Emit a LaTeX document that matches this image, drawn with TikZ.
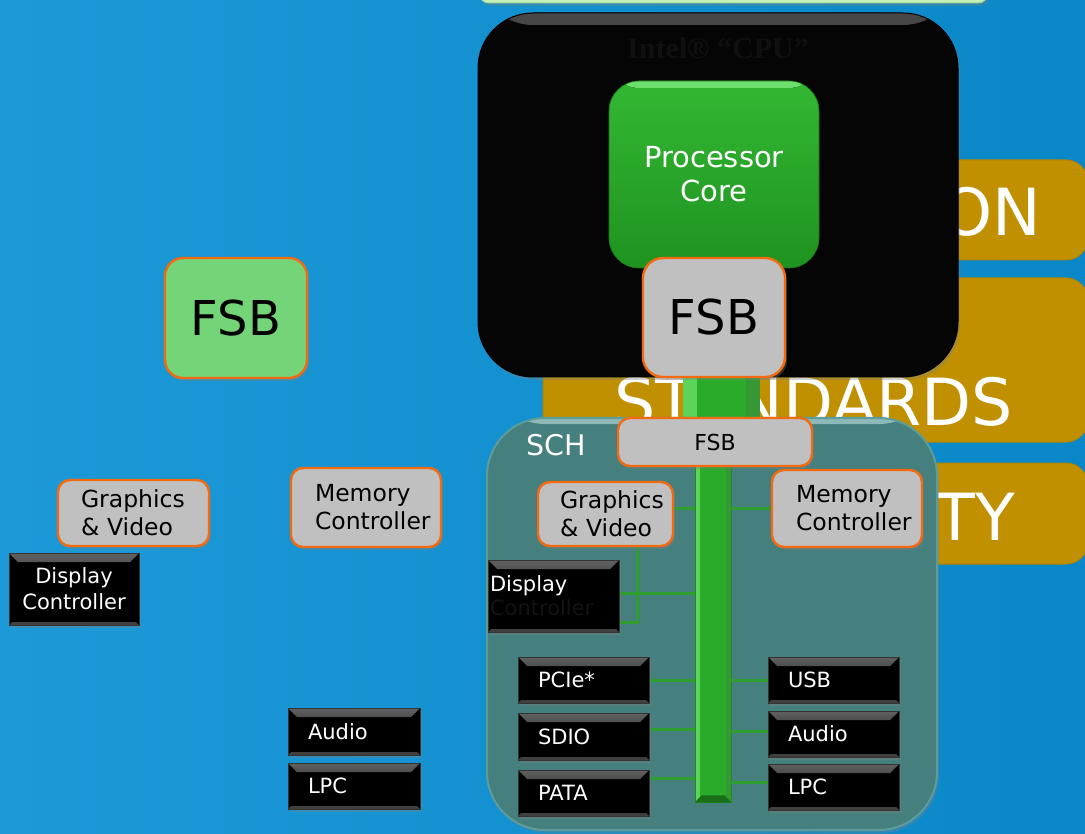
\documentclass[tikz,border=0pt]{standalone}
\usepackage{fontspec}
\setmainfont{DejaVu Sans}
\newfontfamily\cpufont{Liberation Serif}
\usetikzlibrary{shadows}
\pgfdeclarelayer{back}
\pgfdeclarelayer{wires}
\pgfsetlayers{back,wires,main}

\newcommand{\setfs}[2]{\fontsize{#1pt}{#2pt}\selectfont}

\definecolor{bgL}{HTML}{1C9AD8}
\definecolor{bgR}{HTML}{0A87C7}
\definecolor{gold}{HTML}{C09000}
\definecolor{boxgray}{HTML}{C0C0C0}
\definecolor{edgeorange}{HTML}{F46A10}
\definecolor{fsbgreen}{HTML}{74D478}
\definecolor{teal}{HTML}{457F7E}
\definecolor{tealedge}{HTML}{5E9C9B}
\definecolor{wire}{HTML}{2E9E2E}
\definecolor{coreTop}{HTML}{33B833}
\definecolor{coreBot}{HTML}{1F931F}
\definecolor{coreHi}{HTML}{6EE06E}
\definecolor{paleg}{HTML}{C6F0B8}
\definecolor{paleEdge}{HTML}{9FD89A}
\definecolor{cpublack}{HTML}{050505}
\definecolor{cpulabel}{HTML}{101010}
\definecolor{nearblack}{HTML}{131313}
\definecolor{buslight}{HTML}{5CD45C}
\definecolor{busmid}{HTML}{2AAC2A}
\definecolor{busdark}{HTML}{1E8B1E}

\begin{document}
\begin{tikzpicture}[x=1pt,y=-1pt,
  shadowed/.style={drop shadow={shadow xshift=2pt,shadow yshift=-3pt,opacity=0.35}},
  graybox/.style={shadowed,fill=boxgray,draw=edgeorange,line width=2.4pt,
    rounded corners=12pt,inner sep=0pt,text=black},
  blackbox/.style={shadowed,fill=black,draw=black!80,line width=0.5pt,inner sep=0pt,text=white,
    path picture={
      \fill[top color=black!62,bottom color=black]
        (path picture bounding box.north west) -- (path picture bounding box.north east)
        -- ([xshift=-9pt,yshift=-9pt]path picture bounding box.north east)
        -- ([xshift=9pt,yshift=-9pt]path picture bounding box.north west) -- cycle;
      \fill[black!75]
        (path picture bounding box.south west) -- (path picture bounding box.south east)
        -- ([xshift=-3pt,yshift=3pt]path picture bounding box.south east)
        -- ([xshift=3pt,yshift=3pt]path picture bounding box.south west) -- cycle;
    }},
  padtext/.style 2 args={text width=#1,inner xsep=#2,align=left},
  link/.style={draw=wire,line width=3pt},
  banner/.style={fill=gold,draw=gold!92!black,line width=1pt,rounded corners=22pt},
  bannertext/.style={text=white,inner sep=0pt,font=\setfs{65}{65}},
  busfill/.style={fill=busmid,
    path picture={
      \fill[buslight] (path picture bounding box.south west) rectangle
        ([xshift=#1]path picture bounding box.north west);
      \fill[busdark!90] (path picture bounding box.south east) rectangle
        ([xshift=-#1]path picture bounding box.north east);
    }},
  smallbox/.style={blackbox,minimum width=131pt,minimum height=46pt,
    padtext={91pt}{20pt},font=\setfs{21}{25}},
]
\useasboundingbox (0,0) rectangle (1085,834);

\begin{pgfonlayer}{back}
  % backdrop
  \shade[left color=bgL,right color=bgR] (0,0) rectangle (1085,834);
  \path[shadowed,fill=paleg,draw=paleEdge,line width=1pt,rounded corners=10pt]
    (479,-20) rectangle (988,3);

  % gold title bars
  \path[banner] (930,160) rectangle (1088,260);
  \path[banner] (543,278) rectangle (1088,442);
  \path[banner] (900,463) rectangle (1088,564);
  \node[bannertext,anchor=base east] (t1) at (1041,236) {ON};
  \node[bannertext,anchor=base west] (t2) at (614,425) {STANDARDS};
  \node[bannertext,anchor=base east] (t3) at (1015,540) {TY};

  % CPU package
  \node[shadowed,fill=cpublack,draw=black,line width=1pt,rounded corners=55pt,
    minimum width=480pt,minimum height=364pt,inner sep=0pt,
    path picture={\fill[top color=black!72,bottom color=cpublack]
      (path picture bounding box.north west) rectangle
      ([yshift=-12pt]path picture bounding box.north east);}] (cpu) at (718,195) {};
  \node[text=cpulabel,font=\cpufont\bfseries\setfs{30}{30},inner sep=0pt] (cpulbl)
    at (718,48) {Intel® “CPU”};

  % bus stub between the two FSB blocks
  \node[busfill=14pt,minimum width=77pt,minimum height=46pt,inner sep=0pt] (busup)
    at (721.5,397) {};

  \node[top color=coreTop,bottom color=coreBot,draw=coreBot!80!black,line width=0.6pt,
    rounded corners=30pt,minimum width=210pt,minimum height=187pt,inner sep=0pt,
    text=white,align=center,font=\setfs{29}{34},
    path picture={\fill[top color=coreHi,bottom color=coreTop]
      (path picture bounding box.north west) rectangle
      ([yshift=-7pt]path picture bounding box.north east);}] (pcore)
    at (714,174.5) {Processor\\Core};
  \node[graybox,rounded corners=20pt,minimum width=142pt,minimum height=119pt,
    font=\setfs{48}{48}] (cfsb) at (714,317.5) {FSB};

  % SCH package
  \node[shadowed,fill=teal,draw=tealedge,line width=2pt,rounded corners=58pt,
    minimum width=450pt,minimum height=412pt,inner sep=0pt,
    path picture={\fill[top color=tealedge!70!white,bottom color=teal]
      (path picture bounding box.north west) rectangle
      ([yshift=-6pt]path picture bounding box.north east);}] (sch) at (712,624) {};
  \node[text=white,font=\setfs{28.5}{28.5},anchor=west,inner sep=0pt] (schlbl)
    at (526,445) {SCH};

  % internal bus
  \node[busfill=5pt,draw=busdark,line width=0.5pt,minimum width=36pt,minimum height=384pt,
    inner sep=0pt] (bus) at (713,610) {};
  \fill[busdark!80!black] (bus.south west) -- (bus.south east)
    -- ([xshift=-7pt,yshift=7pt]bus.south east) -- ([xshift=7pt,yshift=7pt]bus.south west) -- cycle;
\end{pgfonlayer}

% SCH blocks
\node[graybox,minimum width=194pt,minimum height=48pt,font=\setfs{22}{22}] (sfsb)
  at (715,442) {FSB};
\node[graybox,minimum width=135pt,minimum height=64pt,padtext={91pt}{22pt},
  font=\setfs{23.5}{28}] (sgv) at (605.5,514) {Graphics\\\&~Video};
\node[graybox,minimum width=150pt,minimum height=77pt,padtext={102pt}{24pt},
  font=\setfs{23.5}{28}] (smc) at (847,508.5) {Memory\\Controller};
\node[blackbox,minimum width=131pt,minimum height=72pt,padtext={127pt}{2pt},
  font=\setfs{21}{24}] (sdc) at (553.5,596) {Display\\\textcolor{nearblack}{Controller}};
\node[smallbox] (pcie) at (583.5,680) {PCIe*};
\node[smallbox,minimum height=47pt] (sdio) at (583.5,736.5) {SDIO};
\node[smallbox] (pata) at (583.5,793) {PATA};
\node[smallbox] (usb) at (833.5,680) {USB};
\node[smallbox] (saud) at (833.5,734) {Audio};
\node[smallbox] (slpc) at (833.5,787) {LPC};

% connections to the internal bus
\begin{pgfonlayer}{wires}
  \coordinate (g1) at ([yshift=6pt]sgv.east);
  \draw[link] (g1) -- (g1 -| bus.west);
  \coordinate (m1) at (smc.west);
  \draw[link] (m1) -- (m1 -| bus.east);
  \coordinate (gdrop) at ([xshift=31.5pt]sgv.south);
  \coordinate (d2) at ([yshift=-26pt]sdc.east);
  \draw[link] (gdrop) |- (d2);
  \coordinate (d1) at ([yshift=3pt]sdc.east);
  \draw[link] (d1) -- (d1 -| bus.west);
  \draw[link] (pcie.east) -- (pcie.east -| bus.west);
  \coordinate (s1) at ([yshift=7pt]sdio.east);
  \draw[link] (s1) -- (s1 -| bus.west);
  \coordinate (p1) at ([yshift=15pt]pata.east);
  \draw[link] (p1) -- (p1 -| bus.west);
  \draw[link] (usb.west) -- (usb.west -| bus.east);
  \coordinate (a1) at ([yshift=3pt]saud.west);
  \draw[link] (a1) -- (a1 -| bus.east);
  \coordinate (l1) at ([yshift=5pt]slpc.west);
  \draw[link] (l1) -- (l1 -| bus.east);
\end{pgfonlayer}

% loose blocks on the left
\node[shadowed,fill=fsbgreen,draw=edgeorange,line width=2.4pt,rounded corners=18pt,
  minimum width=142pt,minimum height=120pt,inner sep=0pt,font=\setfs{48}{48}] (lfsb)
  at (236,318) {FSB};
\node[graybox,minimum width=151pt,minimum height=66pt,padtext={105pt}{23pt},
  font=\setfs{23.5}{28}] (lgv) at (133.5,513) {Graphics\\\&~Video};
\node[graybox,minimum width=150pt,minimum height=79pt,padtext={102pt}{24pt},
  font=\setfs{23.5}{28}] (lmc) at (366,507.5) {Memory\\Controller};
\node[blackbox,minimum width=130pt,minimum height=72pt,align=center,
  font=\setfs{21}{26}] (ldc) at (74,589) {Display\\Controller};
\node[smallbox,minimum width=132pt,minimum height=47pt,padtext={92pt}{20pt}] (laud)
  at (354,731.5) {Audio};
\node[smallbox,minimum width=132pt,padtext={92pt}{20pt}] (llpc) at (354,786) {LPC};
\end{tikzpicture}
\end{document}
